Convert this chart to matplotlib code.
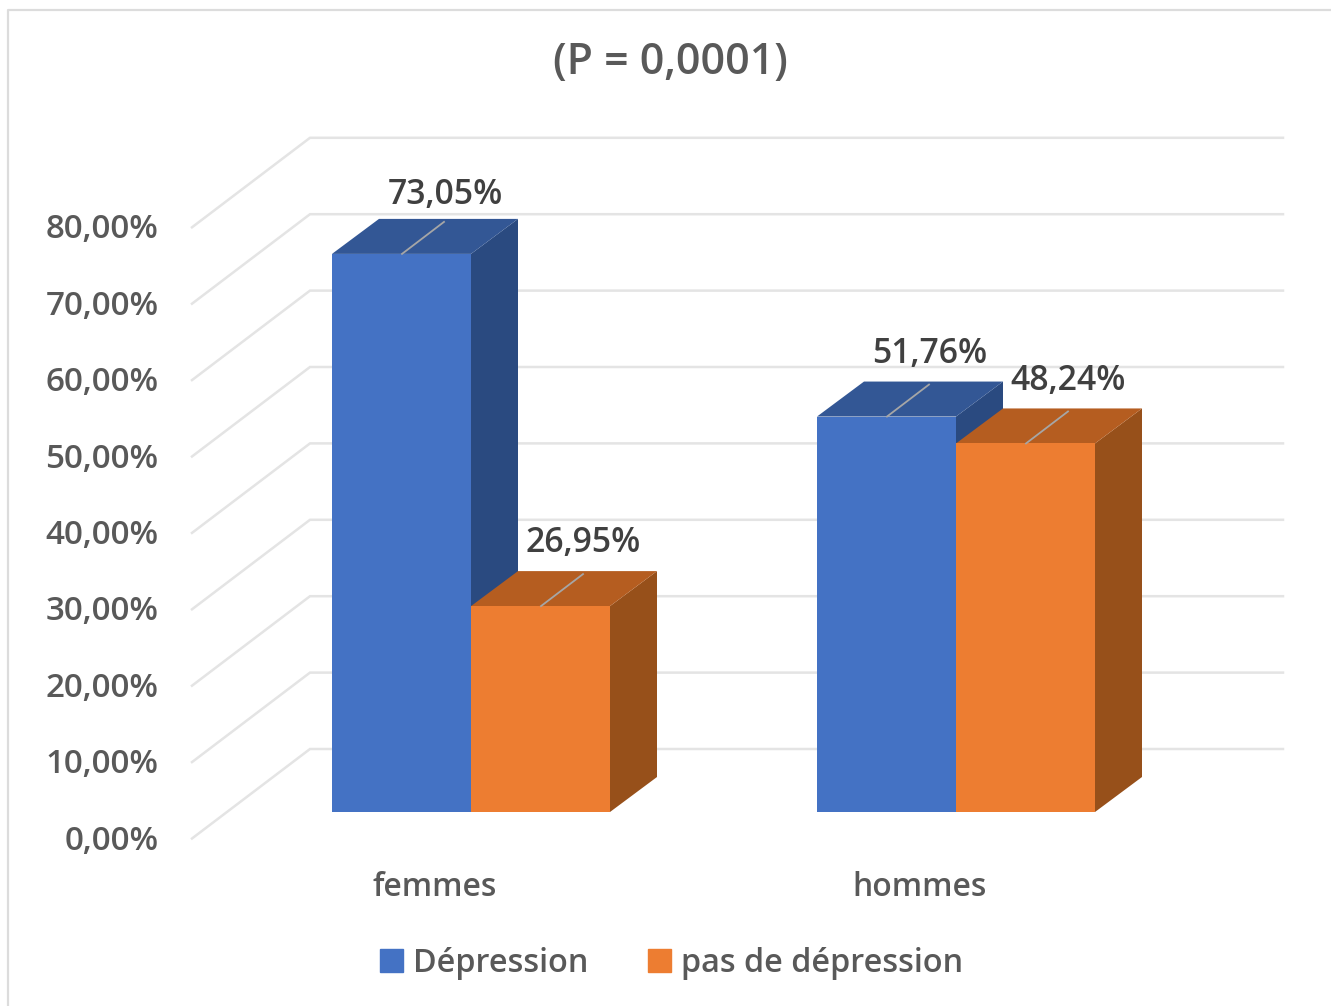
import matplotlib
matplotlib.use("Agg")
import matplotlib.pyplot as plt
from matplotlib.patches import Patch, Polygon, Rectangle

plt.rcParams['font.family'] = ['Open Sans', 'DejaVu Sans']
plt.rcParams['font.weight'] = 600

title = "(P = 0,0001)"
categories = ["femmes", "hommes"]
series_names = ["Dépression", "pas de dépression"]
depression = [73.05, 51.76]
pas_depression = [26.95, 48.24]
value_labels = [["73,05%", "51,76%"], ["26,95%", "48,24%"]]
axis_values = [0, 10, 20, 30, 40, 50, 60, 70, 80]
axis_labels = ["0,00%", "10,00%", "20,00%", "30,00%", "40,00%",
               "50,00%", "60,00%", "70,00%", "80,00%"]

WIDTH, HEIGHT = 1331, 1006
PX_PER_UNIT = 7.64
FRONT_BASE = 812  # pixel row of the bars' zero line

BLUE = ("#4472c4", "#335795", "#2a4a80")
ORANGE = ("#ed7d31", "#b55d20", "#97501a")
GRID = "#e4e4e4"


def val(px_row):
    """Pixel row converted to a value on the y scale."""
    return (FRONT_BASE - px_row) / PX_PER_UNIT


def draw_bar(ax, left, value, colors, z):
    # front face, top and right side of one 3D column
    width, dx, dy = 139, 47, 35 / PX_PER_UNIT
    front, top, side = colors
    right = left + width
    ax.add_patch(Polygon([(right, 0), (right + dx, dy), (right + dx, value + dy), (right, value)],
                         color=side, lw=0, zorder=z))
    ax.add_patch(Polygon([(left, value), (left + dx, value + dy), (right + dx, value + dy), (right, value)],
                         color=top, lw=0, zorder=z))
    ax.add_patch(Rectangle((left, 0), width, value, color=front, lw=0, zorder=z + 0.1))


def draw_label(ax, left, value, text, rise, shift=43):
    # value label with its small leader line on the column top
    x0 = left + 70
    ax.plot([x0, x0 + 42], [value, value + 32 / PX_PER_UNIT], color="#a6a6a6", lw=1.3, zorder=8)
    ax.text(x0 + shift, value + rise / PX_PER_UNIT, text, ha="center", va="bottom",
            fontsize=24.3, color="#404040", zorder=9)


fig = plt.figure(figsize=(WIDTH / 100, HEIGHT / 100), dpi=100)
ax = fig.add_axes([0, 0, 1, 1])
ax.set_xlim(0, WIDTH)
ax.set_ylim(val(HEIGHT), val(0))
ax.axis("off")

# chart frame, open on the right and at the bottom
ax.plot([7.5, 7.5, WIDTH], [val(HEIGHT), val(10.5), val(10.5)], color="#dcdcdc", lw=1.6)

# back wall gridlines and side wall lines
for v in axis_values:
    wall = v + (FRONT_BASE - 749) / PX_PER_UNIT
    side = v - (838.5 - FRONT_BASE) / PX_PER_UNIT
    ax.plot([192, 310, 1283], [side, wall, wall], color=GRID, lw=1.8, zorder=1, solid_joinstyle="miter")

for v, lab in zip(axis_values, axis_labels):
    ax.text(158.5, v - (838.5 - FRONT_BASE) / PX_PER_UNIT - 0.35, lab, ha="right", va="center",
            fontsize=23.9, color="#595959")

bar_lefts = [332, 817]
blue_rises = [42, 46]
orange_rises = [46, 45]
for i, left in enumerate(bar_lefts):
    draw_bar(ax, left, depression[i], BLUE, 3)
    draw_bar(ax, left + 139, pas_depression[i], ORANGE, 4)
    draw_label(ax, left, depression[i], value_labels[0][i], blue_rises[i])
    draw_label(ax, left + 139, pas_depression[i], value_labels[1][i], orange_rises[i], shift=42)

for left, cat in zip(bar_lefts, categories):
    ax.text(left + 103, val(888), cat, ha="center", va="center", fontsize=22.9, color="#595959")

ax.text(670, val(63), title, ha="center", va="center", fontsize=31, color="#595959")

handles = [Patch(color=BLUE[0]), Patch(color=ORANGE[0])]
ax.legend(handles, series_names, loc="center", bbox_to_anchor=(671.5 / WIDTH, 1 - 963 / HEIGHT),
          ncol=2, frameon=False, fontsize=23.3, labelcolor="#595959", handlelength=0.71,
          handleheight=0.71, handletextpad=0.31, columnspacing=1.85)

fig.savefig("out.png", dpi=100)
plt.close(fig)
